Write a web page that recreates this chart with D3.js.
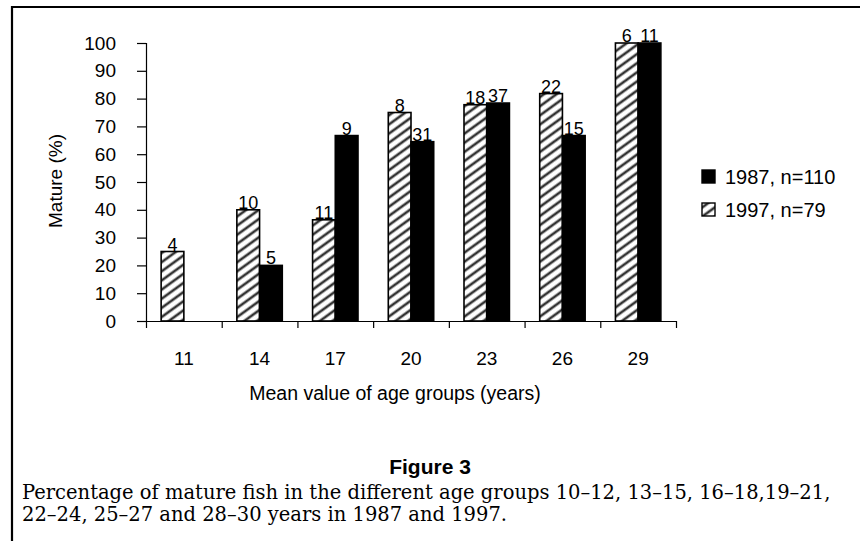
<!DOCTYPE html>
<html>
<head>
<meta charset="utf-8">
<script src="https://cdn.jsdelivr.net/npm/d3@7"></script>
<style>
  body { margin: 0; background: #fff; }
  svg { display: block; }
</style>
</head>
<body>
<div id="chart"></div>
<script>

var ageGroups = ["11", "14", "17", "20", "23", "26", "29"];
var seriesNames = ["1997", "1987"];
var mature1997 = [25, 40, 36.4, 75, 77.8, 81.8, 100];
var mature1987 = [0, 20, 66.7, 64.5, 78.4, 66.7, 100];
var n1997 = ["4", "10", "11", "8", "18", "22", "6"];
var n1987 = ["", "5", "9", "31", "37", "15", "11"];
var yTicks = [0, 10, 20, 30, 40, 50, 60, 70, 80, 90, 100];
var legendLabels = ["1987, n=110", "1997, n=79"];
var captionLines = [
  "Percentage of mature fish in the different age groups 10\u201312, 13\u201315, 16\u201318,19\u201321,",
  "22\u201324, 25\u201327 and 28\u201330 years in 1987 and 1997."
];

var width = 860, height = 541;
var sans = "'Liberation Sans', Arial, sans-serif";

var svg = d3.select("#chart").append("svg")
  .attr("width", width)
  .attr("height", height);

// diagonal hatching for the 1997 bars
var defs = svg.append("defs");
var hatch = defs.append("pattern")
  .attr("id", "hatch")
  .attr("patternUnits", "userSpaceOnUse")
  .attr("width", 7.4)
  .attr("height", 7.4)
  .attr("patternTransform", "rotate(-36)");
hatch.append("rect").attr("width", 7.4).attr("height", 7.4).attr("fill", "#fff");
hatch.append("line")
  .attr("x1", 0).attr("y1", 3.7).attr("x2", 7.4).attr("y2", 3.7)
  .attr("stroke", "#333")
  .attr("stroke-width", 2.6);

// frame
svg.append("path")
  .attr("d", "M12,541V7H860")
  .attr("fill", "none")
  .attr("stroke", "#000")
  .attr("stroke-width", 2.2);

var plotLeft = 146, plotRight = 676, plotTop = 43, plotBottom = 321;

var x = d3.scaleBand()
  .domain(ageGroups)
  .range([plotLeft, plotRight])
  .paddingInner(0.4)
  .paddingOuter(0.2);

var xs = d3.scaleBand()
  .domain(seriesNames)
  .range([0, x.bandwidth()]);

var y = d3.scaleLinear().domain([0, 100]).range([plotBottom, plotTop]);

var edge = d3.scaleLinear().domain([0, ageGroups.length]).range([plotLeft, plotRight]);

// y axis
var yAxis = svg.append("g")
  .attr("transform", "translate(" + plotLeft + ",0)")
  .call(d3.axisLeft(y).tickValues(yTicks).tickSize(9).tickPadding(21));
yAxis.selectAll("text")
  .attr("font-family", sans)
  .attr("font-size", 19)
  .attr("fill", "#000");
yAxis.selectAll("path, line").attr("stroke", "#000").attr("stroke-width", 1.2);

// x axis boundary ticks
var xEdge = svg.append("g")
  .attr("transform", "translate(0," + plotBottom + ")")
  .call(d3.axisBottom(edge).tickValues(d3.range(ageGroups.length + 1)).tickSize(7).tickSizeOuter(0).tickFormat(""));
xEdge.selectAll("path, line").attr("stroke", "#000").attr("stroke-width", 1.2);

// x axis labels
var xAxis = svg.append("g")
  .attr("transform", "translate(0," + plotBottom + ")")
  .call(d3.axisBottom(x).tickSize(0).tickPadding(31));
xAxis.select(".domain").remove();
xAxis.selectAll("text")
  .attr("font-family", sans)
  .attr("font-size", 19)
  .attr("fill", "#000");

var rows = ageGroups.map(function(a, i) {
  return [
    {age: a, series: "1997", value: mature1997[i], n: n1997[i]},
    {age: a, series: "1987", value: mature1987[i], n: n1987[i]}
  ];
});
var bars = d3.merge(rows);

svg.append("g").selectAll("rect")
  .data(bars.filter(function(d) { return d.value > 0; }))
  .join("rect")
  .attr("x", function(d) { return x(d.age) + xs(d.series); })
  .attr("y", function(d) { return y(d.value); })
  .attr("width", xs.bandwidth())
  .attr("height", function(d) { return y(0) - y(d.value); })
  .attr("fill", function(d) { return d.series === "1997" ? "url(#hatch)" : "#000"; })
  .attr("stroke", "#000")
  .attr("stroke-width", 1.6);

svg.append("g").selectAll("text")
  .data(bars.filter(function(d) { return d.n !== ""; }))
  .join("text")
  .attr("x", function(d) { return x(d.age) + xs(d.series) + xs.bandwidth() / 2; })
  .attr("y", function(d) { return y(d.value) - 1; })
  .attr("text-anchor", "middle")
  .attr("font-family", sans)
  .attr("font-size", 18)
  .text(function(d) { return d.n; });

// axis titles
svg.append("text")
  .attr("transform", "translate(62,181) rotate(-90)")
  .attr("text-anchor", "middle")
  .attr("font-family", sans)
  .attr("font-size", 19)
  .text("Mature (%)");

svg.append("text")
  .attr("x", 395)
  .attr("y", 400)
  .attr("text-anchor", "middle")
  .attr("font-family", sans)
  .attr("font-size", 19.5)
  .text("Mean value of age groups (years)");

// legend
var legend = svg.append("g").selectAll("g")
  .data(legendLabels)
  .join("g")
  .attr("transform", function(d, i) { return "translate(702," + (170 + i * 33) + ")"; });
legend.append("rect")
  .attr("width", 13)
  .attr("height", 13)
  .attr("fill", function(d, i) { return i === 0 ? "#000" : "url(#hatch)"; })
  .attr("stroke", "#000")
  .attr("stroke-width", 1.4);
legend.append("text")
  .attr("x", 23)
  .attr("y", 14)
  .attr("font-family", sans)
  .attr("font-size", 20)
  .text(function(d) { return d; });

// caption
svg.append("text")
  .attr("x", 430)
  .attr("y", 474)
  .attr("text-anchor", "middle")
  .attr("font-family", sans)
  .attr("font-weight", "bold")
  .attr("font-size", 21)
  .text("Figure 3");

svg.append("g").selectAll("text")
  .data(captionLines)
  .join("text")
  .attr("x", 22)
  .attr("y", function(d, i) { return 499 + i * 22; })
  .attr("font-family", "'DejaVu Serif', serif")
  .attr("font-size", 19.5)
  .text(function(d) { return d; });

</script>
</body>
</html>
